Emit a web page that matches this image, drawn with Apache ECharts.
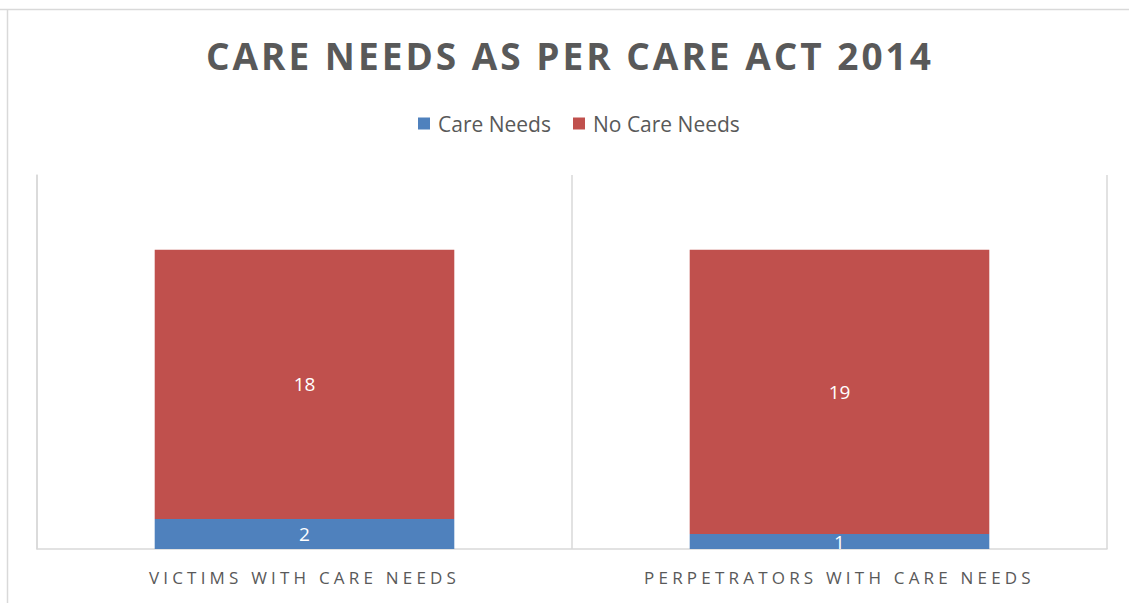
<!DOCTYPE html>
<html><head><meta charset="utf-8">
<script src="https://cdn.jsdelivr.net/npm/echarts@6/dist/echarts.min.js"></script>
<style>html,body{margin:0;padding:0;background:#fff}#c{width:1129px;height:603px}</style>
</head><body><div id="c"></div>
<script>
const categories = ['VICTIMS WITH CARE NEEDS', 'PERPETRATORS WITH CARE NEEDS'];
const careNeeds = [2, 1];
const noCareNeeds = [18, 19];
const titleText = 'CARE NEEDS AS PER CARE ACT 2014';

const chart = echarts.init(document.getElementById('c'), null, {renderer: 'svg'});
const labelStyle = {show: true, position: 'inside', color: '#fff', fontSize: 19, fontFamily: 'Open Sans'};
chart.setOption({
  animation: false,
  graphic: [
    {type: 'line', shape: {x1: 0, y1: 9.5, x2: 1129, y2: 9.5}, style: {stroke: '#d9d9d9', lineWidth: 1.5}},
    {type: 'line', shape: {x1: 7.5, y1: 9, x2: 7.5, y2: 603}, style: {stroke: '#d9d9d9', lineWidth: 1.5}}
  ],
  title: {text: titleText, left: 201, top: 32,
    textStyle: {fontFamily: 'Open Sans', fontWeight: 'bold', fontSize: 37, color: '#595959'}},
  legend: {top: 108, left: 413, itemWidth: 12, itemHeight: 12, itemGap: 22,
    icon: 'rect', textStyle: {fontFamily: 'Open Sans', fontSize: 21, color: '#595959', padding: [0, 0, 0, 3]},
    data: ['Care Needs', 'No Care Needs']},
  grid: {left: 37, right: 22, top: 175, bottom: 54},
  xAxis: {type: 'category', data: categories,
    axisLine: {lineStyle: {color: '#d9d9d9', width: 1.5}},
    axisTick: {show: false},
    splitLine: {show: true, lineStyle: {color: '#d9d9d9', width: 1.5}},
    axisLabel: {margin: 20, fontFamily: 'Open Sans', fontSize: 17, color: '#595959'}},
  yAxis: {type: 'value', min: 0, max: 25, interval: 5, show: true,
    axisLine: {show: true, lineStyle: {color: '#d9d9d9', width: 1.5}},
    axisLabel: {show: false}, axisTick: {show: false}, splitLine: {show: false}},
  series: [
    {name: 'Care Needs', type: 'bar', stack: 's', data: careNeeds, barWidth: '56%',
      itemStyle: {color: '#4f81bd'}, label: labelStyle},
    {name: 'No Care Needs', type: 'bar', stack: 's', data: noCareNeeds, barWidth: '56%',
      itemStyle: {color: '#c0504d'}, label: labelStyle}
  ]
});
function spacing() {
  document.querySelectorAll('#c text').forEach(t => {
    const s = t.textContent;
    if (s === titleText) t.style.letterSpacing = '3px';
    else if (categories.includes(s)) t.style.letterSpacing = '4.2px';
  });
}
spacing();
chart.on('finished', spacing);
</script></body></html>
